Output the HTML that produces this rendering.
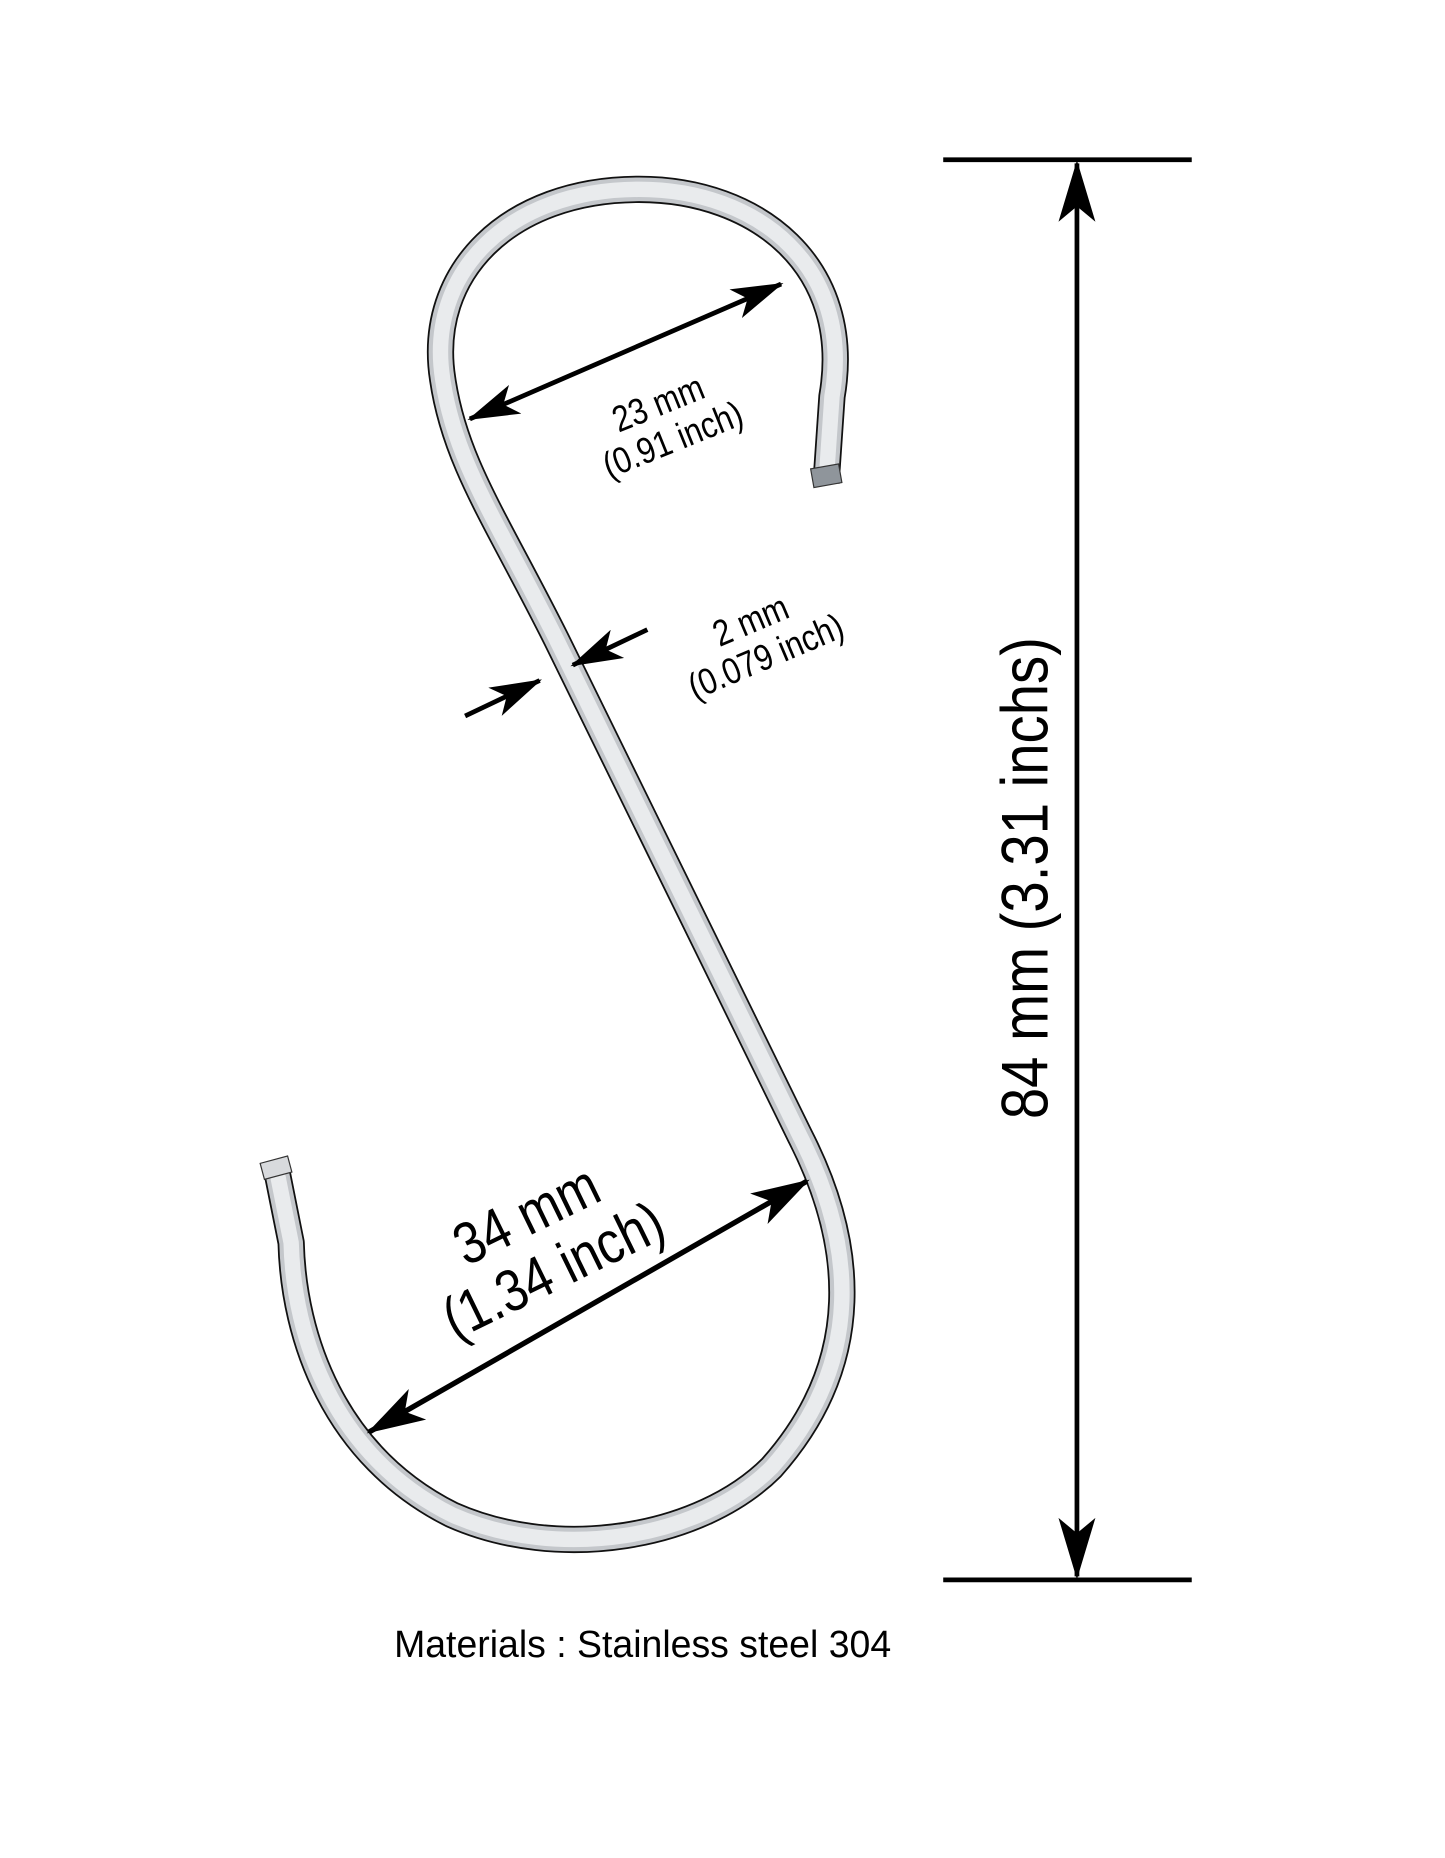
<!DOCTYPE html>
<html><head><meta charset="utf-8"><style>
html,body{margin:0;padding:0;background:#fff;width:1445px;height:1858px;overflow:hidden}
svg{display:block}
text{font-family:"Liberation Sans",sans-serif;fill:#000}
</style></head><body>
<svg width="1445" height="1858" viewBox="0 0 1221 1570" preserveAspectRatio="none" xmlns="http://www.w3.org/2000/svg">
<defs>
<marker id="ah" viewBox="0 0 20 12" refX="19" refY="6" markerWidth="11" markerHeight="6.6" orient="auto-start-reverse" markerUnits="strokeWidth">
<path d="M0,0 L20,6 L0,12 L5,6 Z" fill="#000"/></marker>
<marker id="av" viewBox="0 0 20 12" refX="19" refY="6" markerWidth="13" markerHeight="7.8" orient="auto-start-reverse" markerUnits="strokeWidth">
<path d="M0,0 L20,6 L0,12 L5,6 Z" fill="#000"/></marker>
</defs>
<g fill="none" stroke-linecap="butt" stroke-linejoin="round">
<path d="M698,408 L703,335 C722,225 640,160 540,160 C430,160 360,230 374,320 C384,390 420,440 470,540 L676,960 C722,1050 732,1150 652,1240 C592,1300 472,1320 382,1280 C282,1230 248,1130 246,1050 L234,990" stroke="#111" stroke-width="23"/>
<path d="M698,408 L703,335 C722,225 640,160 540,160 C430,160 360,230 374,320 C384,390 420,440 470,540 L676,960 C722,1050 732,1150 652,1240 C592,1300 472,1320 382,1280 C282,1230 248,1130 246,1050 L234,990" stroke="#c4c7cb" stroke-width="20"/>
<path d="M698,408 L703,335 C722,225 640,160 540,160 C430,160 360,230 374,320 C384,390 420,440 470,540 L676,960 C722,1050 732,1150 652,1240 C592,1300 472,1320 382,1280 C282,1230 248,1130 246,1050 L234,990" stroke="#e9ebed" stroke-width="13"/>
</g>
<rect x="686" y="394" width="24" height="16" fill="#8f959b" stroke="#333" stroke-width="1" transform="rotate(-10 698 401)"/>
<rect x="221" y="980" width="24" height="14" fill="#d8dadd" stroke="#333" stroke-width="1" transform="rotate(-15 232 986)"/>
<!-- 23mm -->
<line x1="397" y1="354" x2="660" y2="240" stroke="#000" stroke-width="4" marker-start="url(#ah)" marker-end="url(#ah)"/>
<g transform="translate(563,358) rotate(-22) scale(0.85,1)">
<text x="0" y="-8" font-size="31" text-anchor="middle">23 mm</text>
<text x="0" y="25" font-size="31" text-anchor="middle">(0.91 inch)</text></g>
<!-- 2mm -->
<line x1="393" y1="605" x2="456" y2="575" stroke="#000" stroke-width="4" marker-end="url(#ah)"/>
<line x1="547" y1="532" x2="484" y2="562" stroke="#000" stroke-width="4" marker-end="url(#ah)"/>
<g transform="translate(643,545) rotate(-23) scale(0.85,1)">
<text x="0" y="-12" font-size="31" text-anchor="middle">2 mm</text>
<text x="0" y="21" font-size="31" text-anchor="middle">(0.079 inch)</text></g>
<!-- 34mm -->
<line x1="312" y1="1210" x2="682" y2="998" stroke="#000" stroke-width="4.5" marker-start="url(#ah)" marker-end="url(#ah)"/>
<g transform="translate(460,1058) rotate(-26) scale(0.85,1)">
<text x="0" y="-18" font-size="50" text-anchor="middle">34 mm</text>
<text x="0" y="34" font-size="50" text-anchor="middle">(1.34 inch)</text></g>
<!-- vertical dimension -->
<line x1="797" y1="135" x2="1007" y2="135" stroke="#000" stroke-width="4"/>
<line x1="797" y1="1335" x2="1007" y2="1335" stroke="#000" stroke-width="4"/>
<line x1="910" y1="138" x2="910" y2="1332" stroke="#000" stroke-width="4" marker-start="url(#av)" marker-end="url(#av)"/>
<text transform="translate(885,742) rotate(-90) scale(0.85,1)" font-size="56" text-anchor="middle">84 mm (3.31 inchs)</text>
<text x="333" y="1400" font-size="32" textLength="420" lengthAdjust="spacingAndGlyphs">Materials : Stainless steel 304</text>
</svg>
</body></html>
